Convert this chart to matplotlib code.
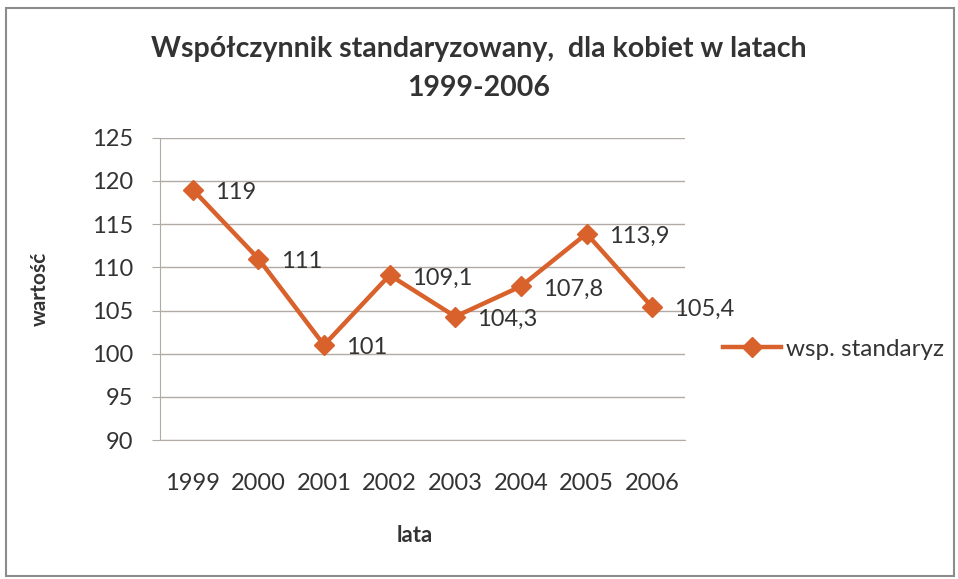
import matplotlib.pyplot as plt
from matplotlib.patches import Rectangle

years = ["1999", "2000", "2001", "2002", "2003", "2004", "2005", "2006"]
values = [119, 111, 101, 109.1, 104.3, 107.8, 113.9, 105.4]
labels = ["119", "111", "101", "109,1", "104,3", "107,8", "113,9", "105,4"]

plt.rcParams["font.family"] = ["Lato", "DejaVu Sans"]
orange = "#D8612C"
grid = "#B3AAA3"
txt = "#333333"

fig = plt.figure(figsize=(9.58, 5.79), dpi=100)
fig.patches.append(Rectangle((0.006, 0.005), 0.99, 0.982, transform=fig.transFigure,
                             fill=False, edgecolor="#8C8C8C", linewidth=1.5))
ax = fig.add_axes([0.167, 0.240, 0.548, 0.522])

x = list(range(len(years)))
ax.plot(x, values, color=orange, linewidth=3.2, marker="D", markersize=10,
        label="wsp. standaryz", zorder=3)
for xi, v, lab in zip(x, values, labels):
    ax.annotate(lab, (xi, v), xytext=(16, -2), textcoords="offset points",
                va="center", ha="left", fontsize=17, color=txt)

ax.set_xlim(-0.5, 7.5)
ax.set_ylim(90, 125)
ax.set_yticks(range(90, 126, 5))
ax.set_xticks(x)
ax.set_xticklabels(years)
ax.yaxis.grid(True, color=grid, linewidth=1)
ax.set_axisbelow(True)
for s in ["top", "right"]:
    ax.spines[s].set_visible(False)
ax.spines["left"].set_color(grid)
ax.spines["bottom"].set_color(grid)
ax.tick_params(axis="y", length=6, color=grid, labelsize=17, labelcolor=txt, pad=13)
ax.tick_params(axis="x", length=0, labelsize=17, labelcolor=txt, pad=24)

ax.set_xlabel("lata", fontsize=16, fontweight="bold", color=txt)
ax.set_ylabel("wartość", fontsize=15, fontweight="bold", color=txt)
ax.xaxis.set_label_coords(0.486, -0.282)
ax.yaxis.set_label_coords(-0.21, 0.5)
fig.text(0.5, 0.882, "Współczynnik standaryzowany,  dla kobiet w latach\n1999-2006",
         ha="center", va="center", fontsize=20.5, fontweight="bold", color=txt,
         linespacing=1.6)

ax.legend(loc="center left", bbox_to_anchor=(1.03, 0.3), frameon=False, fontsize=17.5,
          handlelength=2.4, handletextpad=0.2, labelcolor=txt)

plt.savefig("out.png", dpi=100)
